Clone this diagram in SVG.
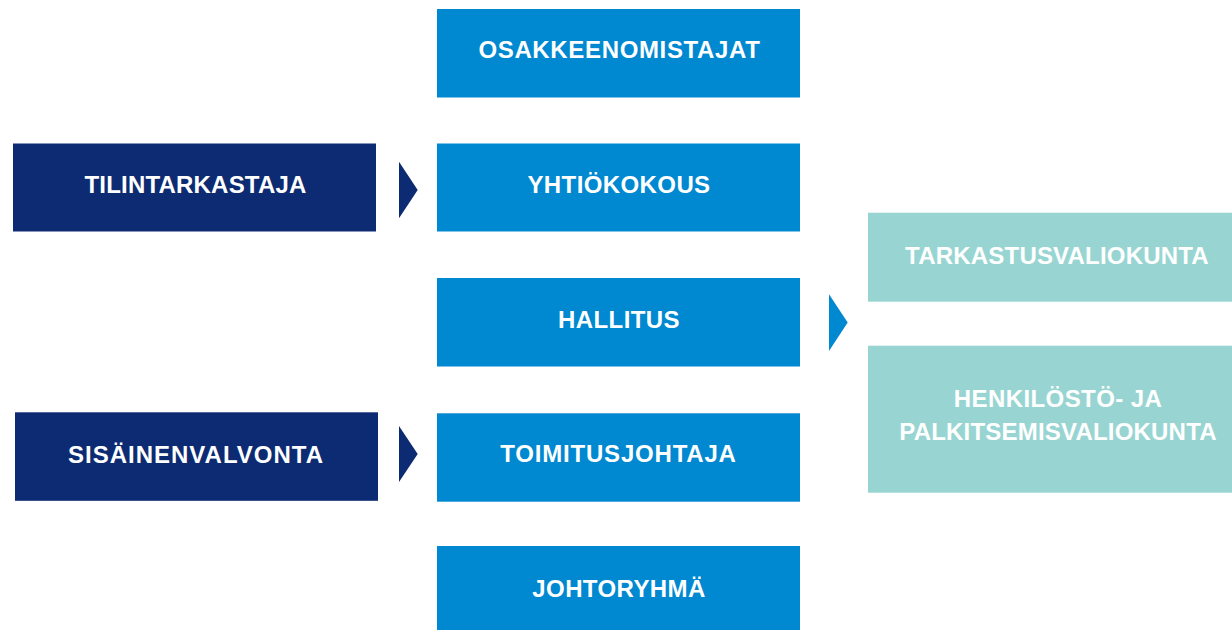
<svg xmlns="http://www.w3.org/2000/svg" width="1232" height="630" viewBox="0 0 1232 630">
<style>
.blue{fill:#0088D1}
.navy{fill:#0C2B72}
.teal{fill:#98D5D2}
.t{font-family:"Liberation Sans",Arial,sans-serif;font-weight:bold;font-size:24px;fill:#FFFFFF;text-anchor:middle}
</style>
<rect width="1232" height="630" fill="#FFFFFF"/>
<g id="osakkeenomistajat"><rect class="blue" x="437" y="9" width="363" height="88.5"/><text class="t" x="619.5" y="58" letter-spacing="0.65">OSAKKEENOMISTAJAT</text></g>
<g id="yhtiokokous"><rect class="blue" x="437" y="143.5" width="363" height="88"/><text class="t" x="619" y="192.5" letter-spacing="0.4">YHTIÖKOKOUS</text></g>
<g id="hallitus"><rect class="blue" x="437" y="278" width="363" height="88.5"/><text class="t" x="619" y="327.5" letter-spacing="0.4">HALLITUS</text></g>
<g id="toimitusjohtaja"><rect class="blue" x="437" y="413.3" width="363" height="88.4"/><text class="t" x="618.5" y="462.3" letter-spacing="0.8">TOIMITUSJOHTAJA</text></g>
<g id="johtoryhma"><rect class="blue" x="437" y="546" width="363" height="84"/><text class="t" x="619" y="596.7" letter-spacing="0.4">JOHTORYHMÄ</text></g>
<g id="tilintarkastaja"><rect class="navy" x="13" y="143.5" width="363" height="88"/><text class="t" x="195.5" y="192.5" letter-spacing="0.2">TILINTARKASTAJA</text></g>
<g id="sisainenvalvonta"><rect class="navy" x="15" y="412.3" width="363" height="88.5"/><text class="t" x="196" y="462.5" letter-spacing="1.0">SISÄINENVALVONTA</text></g>
<g id="tarkastusvaliokunta"><rect class="teal" x="868" y="212.7" width="364" height="89"/><text class="t" x="1057" y="264" letter-spacing="0.2">TARKASTUSVALIOKUNTA</text></g>
<g id="henkilostovaliokunta"><rect class="teal" x="868" y="345.7" width="364" height="147"/><text class="t" x="1058" y="406.5" letter-spacing="0.4">HENKILÖSTÖ- JA</text><text class="t" x="1058" y="439.5" letter-spacing="0.2">PALKITSEMISVALIOKUNTA</text></g>
<g id="connectors">
<polygon class="navy" points="399,161.7 417.7,190 399,218.3"/>
<polygon class="navy" points="399,426 417.7,454 399,482"/>
<polygon class="blue" points="829,294.3 847.7,322.6 829,351"/>
</g>
</svg>
